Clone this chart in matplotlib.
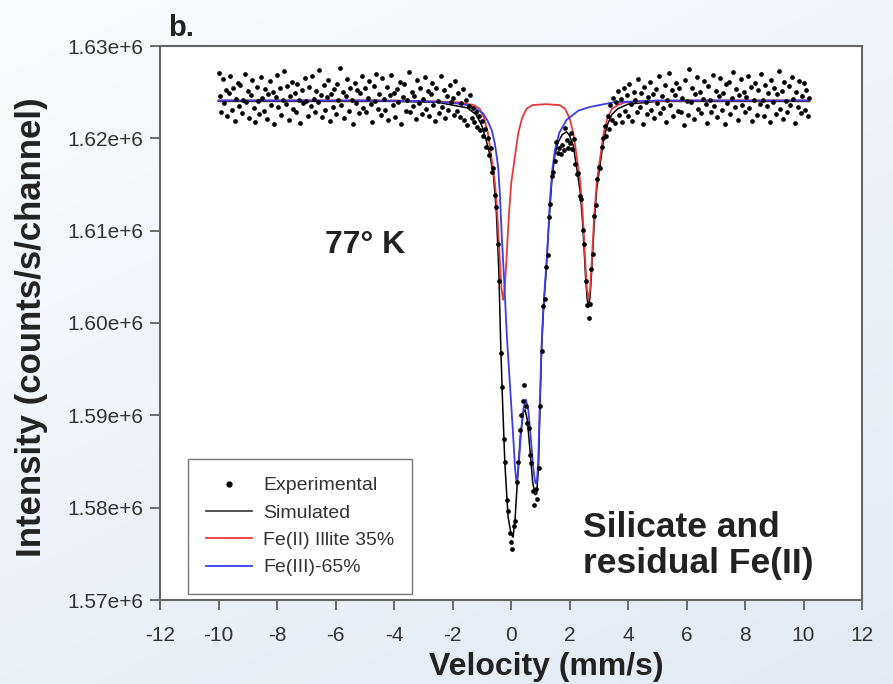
import numpy as np
import matplotlib
matplotlib.use("Agg")
import matplotlib.pyplot as plt
from matplotlib.lines import Line2D

plt.rcParams['font.family'] = ['Liberation Sans', 'DejaVu Sans']
plt.rcParams['axes.unicode_minus'] = False

# Experimental counts (kilo-counts), equally spaced channels from -10.0 to 10.2 mm/s
exp_kcounts = [
    1627.1, 1624.6, 1622.9, 1626.4, 1623.8, 1625.2, 1622.4, 1624.9, 1626.8, 1623.1, 1625.5, 1621.9, 1624.3, 1626.0, 1623.5, 1625.8, 1622.7, 1624.2, 1627.0, 1623.9,
    1625.1, 1622.2, 1624.7, 1626.3, 1623.3, 1621.8, 1625.6, 1624.0, 1622.6, 1626.6, 1624.4, 1623.0, 1625.3, 1622.1, 1624.8, 1626.2, 1623.6, 1625.0, 1621.6, 1624.5,
    1626.9, 1623.4, 1625.4, 1622.5, 1624.1, 1627.3, 1623.7, 1625.7, 1622.0, 1624.6, 1626.1, 1623.2, 1624.9, 1622.8, 1625.9, 1624.2, 1621.7, 1625.2, 1623.8, 1626.5,
    1624.0, 1622.4, 1625.6, 1623.5, 1626.7, 1624.3, 1622.9, 1625.1, 1623.9, 1627.4, 1624.7, 1622.3, 1625.8, 1623.1, 1624.5, 1626.3, 1621.9, 1624.8, 1623.4, 1625.3,
    1622.6, 1625.9, 1624.2, 1627.6, 1623.6, 1625.0, 1622.2, 1624.6, 1626.4, 1623.0, 1625.5, 1624.1, 1621.5, 1626.0, 1623.8, 1625.2, 1622.7, 1624.9, 1626.8, 1623.3,
    1625.4, 1622.9, 1624.4, 1626.2, 1623.7, 1621.8, 1625.7, 1624.0, 1627.0, 1623.2, 1624.8, 1622.5, 1626.5, 1624.3, 1623.1, 1625.6, 1622.0, 1624.7, 1626.9, 1623.6,
    1624.9, 1622.3, 1625.3, 1623.9, 1626.1, 1621.6, 1624.5, 1625.9, 1623.0, 1624.2, 1627.2, 1622.8, 1625.0, 1623.5, 1624.6, 1622.1, 1626.3, 1623.8, 1625.4, 1622.6,
    1624.3, 1626.6, 1623.2, 1625.1, 1622.4, 1624.8, 1626.0, 1623.6, 1621.9, 1625.5, 1624.0, 1622.7, 1626.8, 1623.4, 1625.2, 1622.2, 1624.6, 1623.1, 1625.8, 1623.9,
    1624.4, 1622.5, 1626.2, 1623.0, 1624.9, 1622.3, 1623.8, 1625.3, 1622.0, 1624.1, 1621.4, 1623.5, 1624.7, 1622.2, 1623.3, 1621.8, 1622.9, 1621.2, 1622.4, 1620.9,
    1621.9, 1620.3, 1621.0, 1619.1, 1620.0, 1618.2, 1618.9, 1616.3, 1616.8, 1613.9, 1612.6, 1608.6, 1604.5, 1596.8, 1593.1, 1587.4, 1584.9, 1580.8, 1579.6, 1577.3,
    1576.3, 1575.5, 1578.0, 1578.6, 1582.8, 1584.9, 1588.4, 1590.0, 1591.5, 1593.3, 1591.0, 1589.2, 1588.6, 1585.7, 1584.8, 1581.8, 1580.3, 1582.0, 1580.9, 1584.3,
    1591.0, 1597.0, 1601.8, 1602.6, 1606.1, 1607.4, 1611.5, 1612.9, 1615.9, 1616.3, 1617.5, 1619.6, 1618.4, 1619.0, 1618.3, 1619.3, 1618.7, 1621.1, 1619.8, 1618.9,
    1619.5, 1620.6, 1618.8, 1619.9, 1617.2, 1616.1, 1616.2, 1613.8, 1613.4, 1610.1, 1608.6, 1604.6, 1602.0, 1600.5, 1602.1, 1605.9, 1607.5, 1611.6, 1612.8, 1615.6,
    1616.9, 1616.8, 1619.1, 1620.0, 1621.3, 1620.2, 1622.4, 1621.0, 1623.6, 1622.0, 1624.4, 1621.7, 1623.9, 1625.1, 1622.5, 1624.3, 1621.8, 1625.4, 1623.0, 1624.7,
    1622.4, 1625.9, 1623.7, 1621.9, 1625.0, 1624.1, 1622.8, 1626.4, 1623.4, 1624.9, 1621.5, 1625.6, 1623.9, 1622.6, 1624.5, 1626.1, 1623.1, 1624.8, 1622.2, 1625.3,
    1623.8, 1626.7, 1622.7, 1624.6, 1623.3, 1625.8, 1621.8, 1624.2, 1627.1, 1623.6, 1625.2, 1622.4, 1624.7, 1626.0, 1623.0, 1625.5, 1622.9, 1624.4, 1621.4, 1626.3,
    1624.0, 1622.5, 1627.5, 1623.9, 1625.4, 1622.1, 1624.8, 1626.6, 1623.2, 1625.0, 1622.7, 1624.3, 1626.2, 1623.7, 1621.7, 1625.7, 1624.1, 1622.9, 1626.9, 1623.5,
    1625.1, 1622.3, 1624.6, 1626.5, 1623.1, 1624.9, 1621.6, 1625.9, 1623.8, 1626.1, 1622.6, 1624.4, 1627.2, 1623.4, 1625.3, 1622.0, 1624.7, 1626.4, 1623.6, 1625.0,
    1622.8, 1624.5, 1626.8, 1623.3, 1625.6, 1621.9, 1624.2, 1626.0, 1622.5, 1625.2, 1623.7, 1627.0, 1624.1, 1622.4, 1625.8, 1623.5, 1624.9, 1621.8, 1626.3, 1623.9,
    1625.4, 1622.6, 1624.8, 1627.3, 1623.2, 1625.1, 1622.1, 1626.1, 1624.0, 1622.9, 1625.7, 1623.6, 1626.6, 1624.3, 1621.7, 1625.0, 1623.4, 1626.2, 1622.7, 1624.6,
    1626.0, 1623.1, 1625.2, 1622.4, 1624.4,
]
exp_vel = np.linspace(-10.0, 10.2, len(exp_kcounts))

# Simulated (total fit) curve
sim_vel = [-10.0, -4.0, -2.5, -2.0, -1.5, -1.2, -1.0, -0.85, -0.72, -0.6, -0.5, -0.42, -0.35,
           -0.3, -0.21, -0.1, 0.0, 0.07, 0.14, 0.22, 0.32, 0.42, 0.48, 0.56, 0.65, 0.74, 0.82,
           0.88, 0.94, 1.0, 1.05, 1.1, 1.15, 1.2, 1.3, 1.4, 1.5, 1.6, 1.75, 1.9, 2.0, 2.13,
           2.27, 2.37, 2.45, 2.5, 2.55, 2.6, 2.65, 2.7, 2.75, 2.8, 2.85, 2.93, 3.03, 3.17,
           3.3, 3.45, 3.65, 4.0, 5.0, 10.2]
sim_kcounts = [1624.0, 1624.0, 1623.9, 1623.6, 1623.3, 1622.6, 1621.4, 1619.8, 1618.2, 1616.0,
               1612.0, 1606.0, 1597.5, 1592.5, 1584.8, 1579.0, 1577.2, 1576.8, 1578.8, 1583.0,
               1587.8, 1590.3, 1590.6, 1589.5, 1586.2, 1582.8, 1581.4, 1581.5, 1584.5, 1592.0,
               1597.4, 1600.8, 1603.3, 1605.5, 1611.0, 1615.6, 1618.2, 1619.5, 1620.4, 1620.7,
               1620.3, 1619.2, 1616.3, 1614.1, 1610.8, 1608.0, 1605.0, 1602.7, 1601.7, 1602.8,
               1605.2, 1608.2, 1611.0, 1614.5, 1616.8, 1620.0, 1621.5, 1622.6, 1623.2, 1623.7,
               1624.0, 1624.0]

# Fe(II) illite component
fe2_vel = [-10.0, -4.0, -2.5, -1.8, -1.27, -1.07, -0.92, -0.79, -0.65, -0.55, -0.47, -0.42,
           -0.37, -0.32, -0.27, -0.22, -0.17, -0.12, -0.07, 0.01, 0.11, 0.25, 0.38, 0.53,
           0.73, 1.19, 1.65, 1.85, 2.0, 2.13, 2.27, 2.37, 2.45, 2.5, 2.55, 2.6, 2.65, 2.7,
           2.75, 2.8, 2.85, 2.93, 3.03, 3.17, 3.3, 3.45, 3.65, 3.9, 4.5, 6.0, 10.2]
fe2_kcounts = [1624.1, 1624.1, 1624.0, 1623.9, 1623.6, 1623.2, 1622.2, 1620.6, 1617.5, 1615.2,
               1611.8, 1609.0, 1606.0, 1603.6, 1602.5, 1603.6, 1606.0, 1609.0, 1611.8, 1615.2,
               1617.5, 1620.6, 1622.2, 1623.2, 1623.6, 1623.7, 1623.6, 1623.2, 1622.2, 1620.6,
               1617.5, 1615.2, 1611.8, 1609.0, 1606.0, 1603.6, 1602.5, 1603.6, 1606.0, 1609.0,
               1611.8, 1615.2, 1617.5, 1620.6, 1622.2, 1623.2, 1623.6, 1623.9, 1624.0, 1624.1,
               1624.1]

# Fe(III) component
fe3_vel = [-10.0, -5.0, -3.0, -2.0, -1.5, -1.2, -0.95, -0.8, -0.65, -0.55, -0.44, -0.38,
           -0.32, -0.24, -0.14, -0.04, 0.06, 0.14, 0.195, 0.26, 0.34, 0.43, 0.51, 0.59, 0.67,
           0.76, 0.83, 0.88, 0.93, 0.99, 1.04, 1.09, 1.16, 1.22, 1.28, 1.33, 1.42, 1.5, 1.65,
           1.9, 2.3, 2.7, 3.5, 5.0, 10.2]
fe3_kcounts = [1624.1, 1624.1, 1624.03, 1623.85, 1623.6, 1623.2, 1622.7, 1621.9, 1620.8,
               1619.4, 1616.9, 1614.0, 1609.7, 1605.0, 1598.5, 1593.5, 1588.5, 1584.2, 1582.6,
               1584.5, 1588.0, 1590.8, 1591.7, 1590.6, 1587.8, 1584.3, 1582.7, 1582.6, 1585.0,
               1592.0, 1597.1, 1600.7, 1604.2, 1606.8, 1610.2, 1613.3, 1616.8, 1618.7, 1620.6,
               1622.0, 1623.0, 1623.4, 1623.9, 1624.1, 1624.1]

labels = ['Experimental', 'Simulated', 'Fe(II) Illite 35%', 'Fe(III)-65%']
red = '#e8393a'
blue = '#3a3ee8'

fig = plt.figure(figsize=(8.93, 6.84), dpi=100)

# soft blue-grey backdrop
bg = fig.add_axes([0, 0, 1, 1], zorder=-5)
gx = np.linspace(0, 1, 200)
gy = np.linspace(0, 1, 200)
GX, GY = np.meshgrid(gx, gy)
shade = np.clip(0.5 * GY + 0.3 * GX, 0, 1)
top = np.array([0.98, 0.985, 0.992])
low = np.array([0.87, 0.90, 0.945])
img = top[None, None, :] * (1 - shade[..., None]) + low[None, None, :] * shade[..., None]
bg.imshow(img, aspect='auto', extent=[0, 1, 0, 1], origin='upper')
bg.axis('off')

ax = fig.add_axes([160 / 893, 1 - 600 / 684, 702 / 893, 554 / 684])
ax.set_facecolor('white')

ax.plot(sim_vel, np.array(sim_kcounts) * 1e3, color='black', linewidth=1.1, zorder=2)
ax.plot(fe2_vel, np.array(fe2_kcounts) * 1e3, color=red, linewidth=1.3, zorder=3)
ax.plot(fe3_vel, np.array(fe3_kcounts) * 1e3, color=blue, linewidth=1.3, zorder=3)
ax.plot(exp_vel, np.array(exp_kcounts) * 1e3, 'o', color='black', markersize=3.4,
        markeredgewidth=0, zorder=4)

ax.set_xlim(-12, 12)
ax.set_ylim(1.57e6, 1.63e6)
ax.set_xticks(np.arange(-12, 13, 2))
yt = np.arange(1.57e6, 1.6301e6, 0.01e6)
ax.set_yticks(yt)
ax.set_yticklabels(['%.2fe+6' % (v / 1e6) for v in yt])
ax.tick_params(axis='both', direction='out', length=7, width=1.2, color='#555555',
               labelsize=15, labelcolor='#333333')
ax.tick_params(axis='x', pad=12)
ax.tick_params(axis='y', pad=5)
for sp in ax.spines.values():
    sp.set_color('#666666')
    sp.set_linewidth(1.5)

ax.set_xlabel('Velocity (mm/s)', fontsize=23, fontweight='bold', color='#222222')
ax.xaxis.set_label_coords(0.551, -0.094)
ax.set_ylabel('Intensity (counts/s/channel)', fontsize=25, fontweight='bold', color='#222222')
ax.yaxis.set_label_coords(-0.16, 0.493)

ax.text(0.235, 0.641, '77° K', transform=ax.transAxes, fontsize=23, fontweight='bold',
        color='#222222', ha='left', va='center')
ax.text(0.603, 0.098, 'Silicate and\nresidual Fe(II)', transform=ax.transAxes, fontsize=25.5,
        fontweight='bold', color='#222222', ha='left', va='center', linespacing=1.1)
fig.text(168 / 893, 1 - 28 / 684, 'b.', fontsize=21, fontweight='bold', color='#222222',
         ha='left', va='center')

handles = [Line2D([0], [0], marker='o', linestyle='', color='black', markersize=3.5),
           Line2D([0], [0], color='#333333', linewidth=1.2),
           Line2D([0], [0], color=red, linewidth=1.3),
           Line2D([0], [0], color=blue, linewidth=1.3)]
leg = ax.legend(handles, labels, loc='lower left', bbox_to_anchor=(0.04, 0.011),
                fontsize=14, frameon=True, fancybox=False, handlelength=2.4,
                labelspacing=0.5, borderpad=0.9, handletextpad=0.55, borderaxespad=0)
leg.get_frame().set_edgecolor('#555555')
leg.get_frame().set_linewidth(1.0)
for t in leg.get_texts():
    t.set_color('#333333')

fig.savefig('out.png', dpi=100)
